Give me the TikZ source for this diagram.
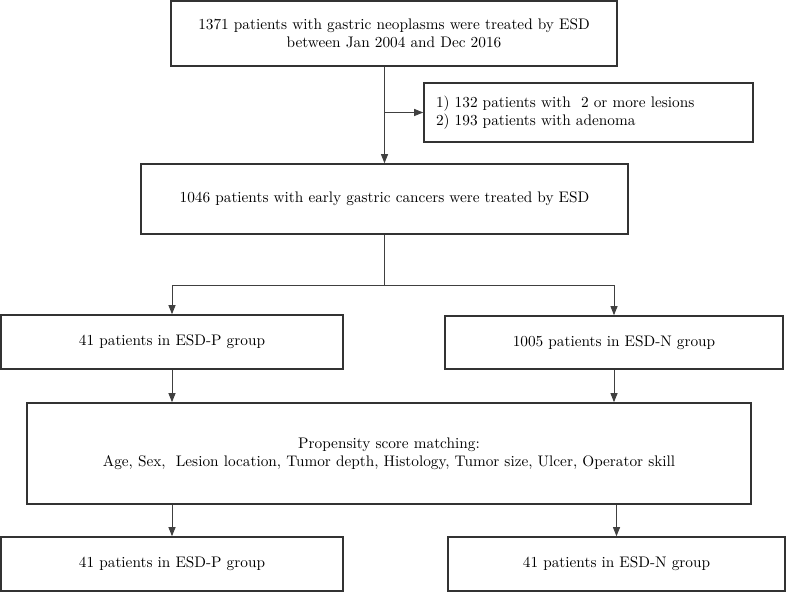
\documentclass[tikz,border=0pt]{standalone}
\usepackage{fontspec}
\setmainfont{lmroman10-regular}[Extension=.otf]
\usepackage{tikz}
\usetikzlibrary{positioning}
\usetikzlibrary{arrows.meta}
\tikzset{
    box/.style = {rectangle, draw=black!80, line width=1.6pt, align=center, inner sep=0pt},
    sidebox/.style = {rectangle, draw=black!80, line width=1.6pt, align=left, inner xsep=12pt, inner ysep=0pt},
    edgen/.style = {-{Triangle[length=9pt,width=7pt]}, line width=0.9pt, draw=black!75},
    edgel/.style = {line width=0.9pt, draw=black!75}, % plain line
}

\begin{document}
\begin{tikzpicture}[
    x=1pt, y=-1pt,
    font=\fontsize{15.3}{18}\selectfont]
  \useasboundingbox (0,0) rectangle (787,593);
  % top of the chart
  \node[box, minimum width=446pt, minimum height=65pt] (screened) at (394,33.5)
    {1371 patients with gastric neoplasms were treated by ESD\\between Jan 2004 and Dec 2016};
  \node[sidebox, text width=305pt, minimum height=59pt] (excluded) at (588.5,112.5)
    {1) 132 patients with~ 2 or more lesions\\2) 193 patients with adenoma};
  \node[box, minimum width=487pt, minimum height=70pt] (egc) at (384.5,199)
    {1046 patients with early gastric cancers were treated by ESD};
  % groups
  \node[box, minimum width=342pt, minimum height=54pt] (groupp) at (172,342)
    {41 patients in ESD-P group};
  \node[box, minimum width=338pt, minimum height=53pt] (groupn) at (614,342.5)
    {1005 patients in ESD-N group};
  \node[box, minimum width=724pt, minimum height=101pt] (psm) at (389,453.5)
    {Propensity score matching:\\Age, Sex,~ Lesion location, Tumor depth, Histology, Tumor size, Ulcer, Operator skill};
  \node[box, minimum width=342pt, minimum height=54pt] (matchp) at (172,564)
    {41 patients in ESD-P group};
  \node[box, minimum width=337pt, minimum height=54pt] (matchn) at (616.5,564)
    {41 patients in ESD-N group};
  \coordinate (split) at (384.5,285);

  \draw[edgen] (screened.south -| egc.north) -- (egc.north);
  \draw[edgen] (excluded.west -| egc.north) -- (excluded.west);
  \draw[edgel] (egc.south) -- (split);
  \draw[edgen] (split) -| (groupp.north);
  \draw[edgen] (split) -| (groupn.north);
  \draw[edgen] (groupp.south) -- (groupp.south |- psm.north);
  \draw[edgen] (groupn.south) -- (groupn.south |- psm.north);
  \draw[edgen] (matchp.north |- psm.south) -- (matchp.north);
  \draw[edgen] (matchn.north |- psm.south) -- (matchn.north);
\end{tikzpicture}
\end{document}
